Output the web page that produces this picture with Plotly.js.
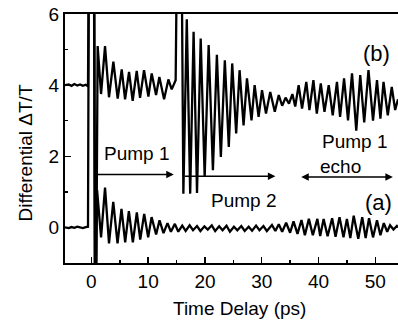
<!DOCTYPE html>
<html>
<head>
<meta charset="utf-8">
<script src="https://cdn.plot.ly/plotly-3.0.1.min.js"></script>
<style>html,body{margin:0;padding:0;background:#fff;}#chart{width:398px;height:322px;}</style>
</head>
<body>
<div id="chart"></div>
<script>
// ---- data ----
// trace (a): single pump-1 response, offset 0
var timeA = [
  -4.65, -4.0, -3.5, -3.0, -2.5, -2.0, -1.5, -1.0, -0.6,
  -0.45, 0.45, 0.6, 0.8,
  1.0, 1.7, 2.4, 3.1, 3.85, 4.6, 5.3, 5.95, 6.6, 7.3, 8.0, 8.6, 9.3, 10.0,
  10.6, 11.4, 12.0, 12.7, 13.4, 14.0, 14.7,
  15.3, 16.0, 16.6, 17.3, 17.9, 18.6, 19.2, 19.9, 20.5, 21.2, 21.8, 22.5,
  23.1, 23.8, 24.4, 25.1, 25.7, 26.4, 27.0, 27.7, 28.3, 29.0, 29.6, 30.3,
  30.9, 31.8, 32.4, 33.0, 33.6, 34.3, 35.0, 35.6, 36.3, 37.0, 37.6, 38.3,
  39.0, 39.8, 40.3, 40.9, 41.6, 42.4, 43.0, 43.7, 44.4, 45.0, 45.6, 46.2,
  47.0, 47.7, 48.3, 48.9, 49.6, 50.3, 50.9, 51.5, 52.1, 52.6, 53.2, 53.8, 54.0
];
var valueA = [
  0.0, -0.02, 0.01, -0.01, 0.02, 0.0, -0.02, 0.01, 0.02,
  7.5, 7.5, -1.5, -1.5,
  1.05, -0.28, 1.12, -0.45, 0.72, -0.45, 0.52, -0.42, 0.46, -0.42, 0.42, -0.34, 0.38, -0.28,
  0.29, -0.2, 0.2, -0.16, 0.12, -0.12, 0.1,
  -0.12, 0.05, -0.1, 0.06, -0.08, 0.04, -0.1, 0.03, -0.06, 0.06, -0.1, 0.03,
  -0.08, 0.05, -0.12, 0.02, -0.08, 0.04, -0.1, 0.02, -0.09, 0.05, -0.08, 0.04,
  -0.1, 0.07, -0.1, 0.09, -0.12, 0.13, -0.15, 0.17, -0.18, 0.21, -0.22, 0.24,
  -0.22, 0.24, -0.24, 0.24, -0.25, 0.26, -0.26, 0.29, -0.28, 0.24, -0.3, 0.33,
  -0.32, 0.29, -0.3, 0.26, -0.28, 0.2, -0.22, 0.12, -0.12, 0.06, -0.06, 0.04, 0.0
];
// trace (b): pump 1 + pump 2 (echo), offset +4
var timeB = [
  -4.65, -4.0, -3.5, -3.0, -2.5, -2.0, -1.5, -1.0, -0.6,
  -0.45, 0.5, 0.65, 0.85,
  1.1, 1.7, 2.4, 3.1, 3.87, 4.63, 5.34, 5.93, 6.63, 7.27, 7.98, 8.57, 9.27,
  10.04, 10.62, 11.39, 11.97, 12.8, 13.56, 14.14, 14.84,
  15.05, 15.9, 16.2, 16.8, 17.4, 18.0, 18.6, 19.25, 19.95, 20.65, 21.4, 22.1,
  22.8, 23.5, 24.2, 24.8, 25.5, 26.1, 26.8, 27.4, 28.2, 28.75, 29.45, 30.05,
  30.75, 31.5, 32.3, 33.0, 33.6, 34.2, 34.8, 35.4, 35.9, 36.5, 37.1, 37.85,
  38.4, 39.1, 39.7, 40.4, 41.05, 41.8, 42.5, 43.25, 43.8, 44.5, 45.2, 45.9,
  46.65, 47.35, 48.05, 48.8, 49.6, 50.3, 50.9, 51.45, 52.2, 52.9, 53.5, 54.0
];
var valueB = [
  4.0, 4.02, 3.98, 4.03, 3.99, 4.02, 3.98, 4.01, 3.97,
  7.5, 7.5, -1.5, -1.5,
  5.1, 3.75, 5.1, 3.66, 4.66, 3.62, 4.44, 3.6, 4.37, 3.56, 4.4, 3.64, 4.42,
  3.68, 4.33, 3.72, 4.23, 3.6, 4.16, 3.88, 4.14,
  7.5, 7.5, 0.95, 5.85, 0.95, 5.5, 0.97, 5.31, 1.42, 5.13, 1.61, 4.85,
  1.98, 4.7, 2.26, 4.61, 2.64, 4.42, 2.87, 4.19, 3.01, 4.0, 3.11, 3.86,
  3.2, 3.81, 3.25, 3.72, 3.42, 3.65, 3.48, 3.75, 3.4, 4.0, 3.34, 4.09,
  3.3, 4.14, 3.2, 4.05, 3.25, 4.0, 3.15, 4.09, 3.11, 4.19, 3.01, 4.33,
  2.72, 4.28, 2.95, 4.42, 3.0, 4.14, 3.06, 4.09, 3.15, 3.95, 3.3, 3.6
];
var xTicks = [0, 10, 20, 30, 40, 50];
var yTicks = [0, 2, 4, 6];
var labels = {pump1: 'Pump 1', pump2: 'Pump 2', echo1: 'Pump 1', echo2: 'echo', a: '(a)', b: '(b)'};
var xTitle = 'Time Delay (ps)';
var yTitle = 'Differential \u0394T/T';

// ---- chart ----
var FONT = 'Liberation Sans, Arial, Helvetica, sans-serif';
var lineStyle = {color: '#000', width: 2.3};
var traces = [
  {x: timeA, y: valueA, mode: 'lines', line: lineStyle, name: '(a)', hoverinfo: 'skip'},
  {x: timeB, y: valueB, mode: 'lines', line: lineStyle, name: '(b)', hoverinfo: 'skip'}
];
function axisBase() {
  return {
    showgrid: false, zeroline: false, showline: true, linecolor: '#000', linewidth: 2,
    ticks: 'inside', ticklen: 6, tickwidth: 1.5, tickcolor: '#000',
    tickfont: {family: FONT, size: 19, color: '#000'}
  };
}
var xa = axisBase();
xa.range = [-4.65, 54.0];
xa.tickvals = xTicks; xa.ticktext = xTicks.map(String);
xa.mirror = true;
xa.minor = {dtick: 5, tick0: 0, ticks: 'inside', ticklen: 3, tickwidth: 1.5, tickcolor: '#000', showgrid: false};
var ya = axisBase();
ya.range = [-1, 6];
ya.tickvals = yTicks; ya.ticktext = yTicks.map(String);
ya.mirror = false;
ya.minor = {dtick: 1, tick0: 0, ticks: 'inside', ticklen: 3, tickwidth: 1.5, tickcolor: '#000', showgrid: false};

function txt(t, x, y, size, xanchor) {
  return {text: t, x: x, y: y, xref: 'x', yref: 'y', showarrow: false,
    xanchor: xanchor || 'center', yanchor: 'middle',
    font: {family: FONT, size: size, color: '#000'}};
}
function arrow(x0, x1, y, both) {
  return {x: x1, y: y, ax: x0, ay: y, xref: 'x', yref: 'y', axref: 'x', ayref: 'y',
    text: '', showarrow: true, arrowhead: 2, arrowsize: 1, arrowwidth: 1.5,
    arrowcolor: '#000', arrowside: both ? 'end+start' : 'end', standoff: 0, startstandoff: 0};
}
var annotations = [
  txt(labels.pump1, 8.0, 2.07, 19),
  arrow(0.3, 14.5, 1.49, false),
  txt(labels.pump2, 26.7, 0.76, 19),
  arrow(16.2, 32.4, 1.44, false),
  txt(labels.echo1, 40.3, 2.41, 19, 'left'),
  txt(labels.echo2, 39.95, 1.72, 19, 'left'),
  arrow(36.7, 53.1, 1.42, true),
  txt(labels.b, 50.2, 4.9, 22),
  txt(labels.a, 50.5, 0.70, 22),
  {text: xTitle, xref: 'paper', yref: 'paper', x: 0.5255, y: -0.181, showarrow: false,
   xanchor: 'center', yanchor: 'middle', font: {family: FONT, size: 19, color: '#000'}},
  {text: yTitle, xref: 'paper', yref: 'paper', x: -0.1186, y: 0.442, showarrow: false,
   textangle: -90, xanchor: 'center', yanchor: 'middle', font: {family: FONT, size: 19, color: '#000'}}
];
var layout = {
  width: 398, height: 322,
  margin: {l: 65, r: 0, t: 14, b: 59, pad: 0},
  paper_bgcolor: '#fff', plot_bgcolor: '#fff',
  showlegend: false,
  xaxis: xa, yaxis: ya,
  annotations: annotations,
  font: {family: FONT, color: '#000'}
};
Plotly.newPlot('chart', traces, layout, {staticPlot: true, displayModeBar: false});
</script>
</body>
</html>
